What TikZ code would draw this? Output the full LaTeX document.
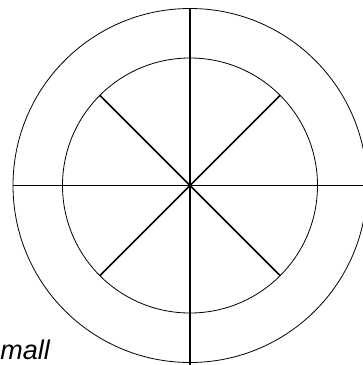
\documentclass[tikz,border=0pt]{standalone}
\usepackage{fontspec}
\setmainfont{Liberation Sans}
\usetikzlibrary{positioning,calc}
\tikzset{
  ringline/.style={draw=black,line width=0.8pt},
  spokeline/.style={draw=black,line width=1.5pt},
  cornerlabel/.style={font=\fontsize{27}{32}\selectfont\itshape,
                      inner sep=0pt,anchor=base east}
}
\begin{document}
\begin{tikzpicture}[x=1pt,y=-1pt]
  \useasboundingbox (0,0) rectangle (363,365);
  \clip (0,0) rectangle (363,365);
  \coordinate (c) at (190,185.5);
  % rings
  \draw[ringline] (c) circle[radius=177];
  \draw[ringline] (c) circle[radius=127.5];
  % long spokes
  \coordinate (top) at ($(c)+(0,-177)$);
  \coordinate (bot) at ($(c)+(0,180)$);
  \coordinate (lft) at ($(c)+(-177,0)$);
  \coordinate (rgt) at ($(c)+(180,0)$);
  \draw[spokeline] (top)--(bot);
  \draw[spokeline] (lft)--(rgt);
  % diagonals inside the inner ring
  \draw[spokeline] ($(c)+(135:127.5)$)--($(c)+(-45:127.5)$);
  \draw[spokeline] ($(c)+(45:127.5)$)--($(c)+(-135:127.5)$);
  \node[cornerlabel] (lbl) at (50,359) {small};
\end{tikzpicture}
\end{document}
